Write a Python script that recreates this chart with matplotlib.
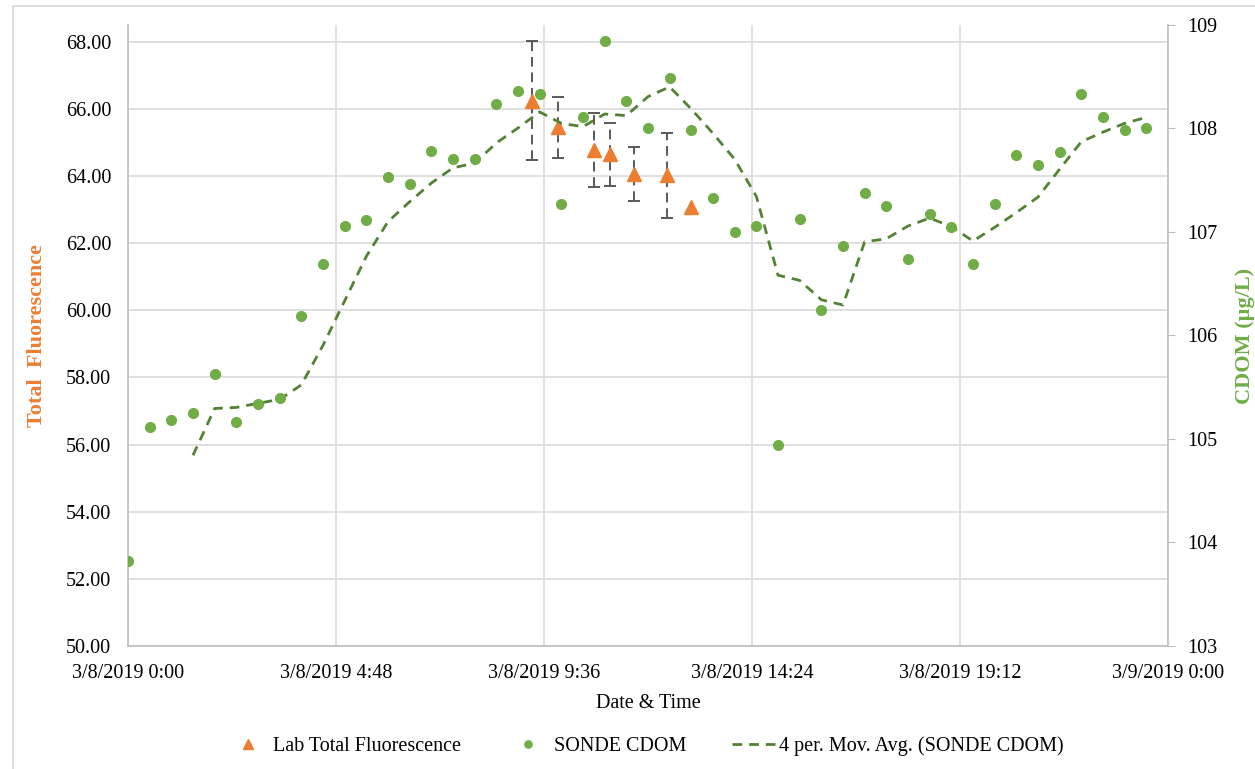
import matplotlib
matplotlib.use("Agg")
import matplotlib.pyplot as plt
from matplotlib.patches import Rectangle
import numpy as np
import pandas as pd

###### dados
# SONDE CDOM (ug/L), a cada 30 min a partir de 3/8/2019 0:00
cdom = [103.82, 105.12, 105.18, 105.25, 105.63, 105.16, 105.34, 105.40,
        106.19, 106.69, 107.06, 107.12, 107.53, 107.46, 107.78, 107.71,
        107.71, 108.24, 108.36, 108.33, 107.27, 108.11, 108.85, 108.27,
        108.00, 108.49, 107.99, 107.33, 107.00, 107.06, 104.94, 107.13,
        106.25, 106.86, 107.38, 107.25, 106.74, 107.17, 107.05, 106.69,
        107.27, 107.74, 107.65, 107.77, 108.33, 108.11, 107.99, 108.00]
cdom_times = pd.date_range("2019-03-08 00:00", periods=len(cdom), freq="30min")

# Lab total fluorescence (ultimo ponto sem barra de erro)
lab_times = pd.to_datetime(["2019-03-08 09:20", "2019-03-08 09:55", "2019-03-08 10:45",
                            "2019-03-08 11:07", "2019-03-08 11:41", "2019-03-08 12:26",
                            "2019-03-08 13:00"])
lab_fluor = [66.25, 65.45, 64.78, 64.65, 64.06, 64.02, 63.08]
lab_err = [1.77, 0.91, 1.10, 0.94, 0.80, 1.27]

x_ticks = pd.date_range("2019-03-08 00:00", "2019-03-09 00:00", freq="288min")
x_labels = ["3/8/2019 0:00", "3/8/2019 4:48", "3/8/2019 9:36",
            "3/8/2019 14:24", "3/8/2019 19:12", "3/9/2019 0:00"]
left_ticks = np.arange(50, 69, 2)
right_ticks = np.arange(103, 110, 1)

###### cores
laranja = "#ED7D31"
verde = "#70AD47"
verde_esc = "#548235"
cinza = "#D9D9D9"

plt.rcParams["font.family"] = ["Liberation Serif", "DejaVu Serif"]
fs = 14.5

fig = plt.figure(figsize=(12.55, 7.69), dpi=100)
ax = fig.add_axes([128/1255, 1-646/769, 1040/1255, 621/769])
ax2 = ax.twinx()

###### borda do grafico
fig.patches.append(Rectangle((13/1255, -0.1), 1.2, 0.1 + 1 - 6/769,
                             transform=fig.transFigure, fill=False,
                             edgecolor=cinza, lw=1.2))

###### fluorescencia do laboratorio com barras de erro
n = len(lab_err)
eb = ax.errorbar(lab_times[:n], lab_fluor[:n], yerr=lab_err, fmt="none",
                 ecolor="#595959", elinewidth=1.4, capsize=4, capthick=1.4, zorder=3)
eb[2][0].set_linestyle((0, (5, 3)))
tri, = ax.plot(lab_times, lab_fluor, linestyle="none", marker="^", markersize=10.5,
               color=laranja, zorder=4, label="Lab Total Fluorescence")

###### sonde cdom e media movel
dots, = ax2.plot(cdom_times, cdom, linestyle="none", marker="o", markersize=7,
                 color=verde, zorder=3, label="SONDE CDOM")
media = pd.Series(cdom).rolling(4).mean()
mm, = ax2.plot(cdom_times, media, color=verde_esc, lw=2, dashes=(3.5, 2.5),
               zorder=2, label="4 per. Mov. Avg. (SONDE CDOM)")

###### eixos
ax.set_xlim(x_ticks[0], x_ticks[-1])
ax.set_xticks(x_ticks)
ax.set_xticklabels(x_labels, fontsize=fs)
ax.set_ylim(50, 68.5)
ax.set_yticks(left_ticks)
ax.set_yticklabels(["%.2f" % v for v in left_ticks], fontsize=fs)
ax.tick_params(axis="both", length=0)
ax.tick_params(axis="y", pad=12)
ax.tick_params(axis="x", pad=13)
ax.grid(True, color=cinza, lw=1.2)
ax.set_axisbelow(True)

ax2.set_ylim(103, 109)
ax2.set_yticks(right_ticks)
ax2.set_yticklabels([str(v) for v in right_ticks], fontsize=fs)
ax2.tick_params(axis="y", length=5, color="#BFBFBF", pad=9)

for a in (ax, ax2):
    for s in a.spines.values():
        s.set_visible(False)
for a, s in ((ax, "left"), (ax, "bottom"), (ax2, "right")):
    a.spines[s].set_visible(True)
    a.spines[s].set_color("#BFBFBF")
    a.spines[s].set_linewidth(1.2)

ax.set_xlabel("Date & Time", fontsize=fs, labelpad=8)
ax.set_ylabel("Total  Fluorescence", fontsize=16, fontweight="bold", color=laranja)
ax.yaxis.set_label_coords(-0.078, 0.5)
ax2.set_ylabel("CDOM (µg/L)", fontsize=16, fontweight="bold", color=verde)
ax2.yaxis.set_label_coords(1.064, 0.5)

###### legenda
fig.legend(handles=[tri, dots, mm], loc="center", bbox_to_anchor=(645/1255, 1-746/769),
           ncol=3, frameon=False, fontsize=fs, handlelength=2.1, handletextpad=0.2,
           columnspacing=2.3, markerscale=0.75)

fig.savefig("out.png", dpi=100)
